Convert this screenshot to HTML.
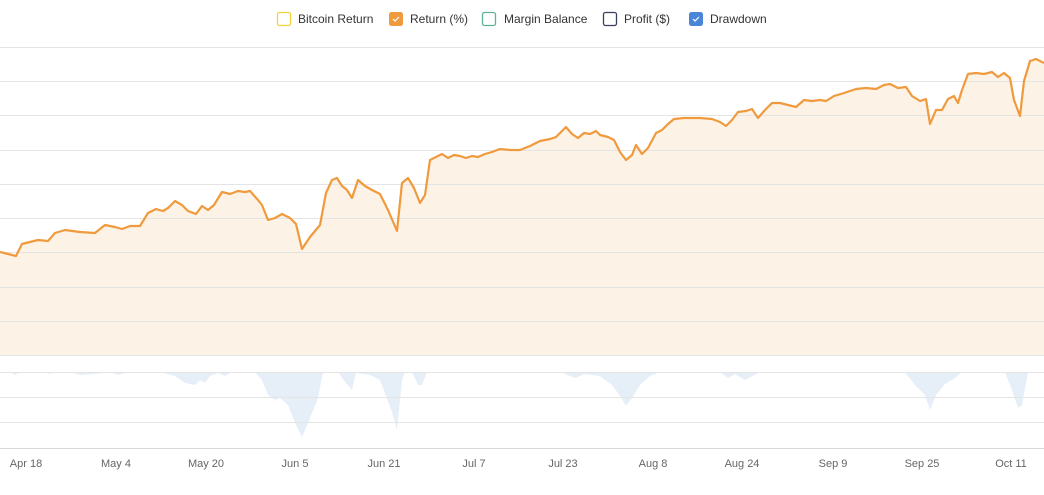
<!DOCTYPE html>
<html><head><style>
body{margin:0;background:#fff;font-family:"Liberation Sans",sans-serif}
</style></head><body>
<svg width="1044" height="490" xmlns="http://www.w3.org/2000/svg" font-family="Liberation Sans, sans-serif">
<rect width="1044" height="490" fill="#fff"/>
<path fill="#fdf2e6" d="M0,252 8,254 16,256 22,244 30,242 38,240 48,241 55,233 65,230 80,232 95,233 105,225 115,227 122,229 130,226 140,226 148,213 156,209 163,211 168,208 175,201 182,205 188,211 196,214 202,206 208,210 214,205 222,192 230,194 238,191 245,192 250,191 258,200 262,205 268,220 275,218 282,214 290,218 296,224 302,249 310,237 320,225 326,193 332,180 337,178 342,186 347,190 352,198 358,180 365,186 372,190 380,194 388,210 397,231 402,183 408,178 414,188 420,203 425,195 430,160 436,157 442,154 448,158 454,155 460,156 466,158 472,156 478,157 485,154 492,152 500,149 510,150 520,150 530,146 540,141 550,139 556,137 560,133 566,127 572,134 578,138 584,133 590,134 596,131 600,135 608,137 614,140 620,152 626,160 632,155 636,145 642,154 648,148 656,133 662,130 668,124 674,119 684,118 700,118 712,119 720,122 726,126 732,120 738,112 746,111 752,109 758,118 765,110 772,103 780,103 788,105 796,107 804,100 812,101 820,100 826,101 834,96 844,93 856,89 866,88 876,89 884,85 890,84 898,88 906,87 912,96 920,101 926,99 930,124 936,110 942,110 948,99 954,96 958,103 962,90 968,74 976,73 984,74 992,72 998,77 1004,73 1010,78 1014,100 1020,116 1024,81 1030,61 1036,59 1044,63 L1044,355 L0,355Z"/>
<path fill="#e6eef8" d="M0,372 10,372 15,375 20,372 45,372 50,374 55,372 70,372 80,375 95,374 110,372 118,375 125,373 140,372 160,372 175,376 185,383 195,385 200,380 205,383 210,376 218,373 225,376 232,372 255,372 262,380 268,395 275,400 280,398 288,405 296,425 302,437 310,418 318,398 323,372 338,372 345,382 352,390 356,373 370,375 380,380 392,412 397,430 402,380 405,372 412,372 418,385 422,385 427,372 560,372 575,378 585,374 600,376 612,385 620,396 626,406 632,398 640,385 650,376 660,372 720,372 728,378 735,374 745,380 760,372 905,372 915,385 925,395 930,410 936,395 945,384 955,378 962,372 1005,372 1012,390 1018,408 1022,405 1028,372 1044,372Z"/>
<g stroke="#e4e4e4" stroke-width="1">
<line x1="0" x2="1044" y1="47.5" y2="47.5"/><line x1="0" x2="1044" y1="81.5" y2="81.5"/>
<line x1="0" x2="1044" y1="115.5" y2="115.5"/><line x1="0" x2="1044" y1="150.5" y2="150.5"/>
<line x1="0" x2="1044" y1="184.5" y2="184.5"/><line x1="0" x2="1044" y1="218.5" y2="218.5"/>
<line x1="0" x2="1044" y1="252.5" y2="252.5"/><line x1="0" x2="1044" y1="287.5" y2="287.5"/>
<line x1="0" x2="1044" y1="321.5" y2="321.5"/><line x1="0" x2="1044" y1="355.5" y2="355.5"/>
<line x1="0" x2="1044" y1="372.5" y2="372.5"/><line x1="0" x2="1044" y1="397.5" y2="397.5"/>
<line x1="0" x2="1044" y1="422.5" y2="422.5"/>
</g>
<path fill="none" stroke="#f09a3e" stroke-width="2.2" stroke-linejoin="round" d="M0,252 8,254 16,256 22,244 30,242 38,240 48,241 55,233 65,230 80,232 95,233 105,225 115,227 122,229 130,226 140,226 148,213 156,209 163,211 168,208 175,201 182,205 188,211 196,214 202,206 208,210 214,205 222,192 230,194 238,191 245,192 250,191 258,200 262,205 268,220 275,218 282,214 290,218 296,224 302,249 310,237 320,225 326,193 332,180 337,178 342,186 347,190 352,198 358,180 365,186 372,190 380,194 388,210 397,231 402,183 408,178 414,188 420,203 425,195 430,160 436,157 442,154 448,158 454,155 460,156 466,158 472,156 478,157 485,154 492,152 500,149 510,150 520,150 530,146 540,141 550,139 556,137 560,133 566,127 572,134 578,138 584,133 590,134 596,131 600,135 608,137 614,140 620,152 626,160 632,155 636,145 642,154 648,148 656,133 662,130 668,124 674,119 684,118 700,118 712,119 720,122 726,126 732,120 738,112 746,111 752,109 758,118 765,110 772,103 780,103 788,105 796,107 804,100 812,101 820,100 826,101 834,96 844,93 856,89 866,88 876,89 884,85 890,84 898,88 906,87 912,96 920,101 926,99 930,124 936,110 942,110 948,99 954,96 958,103 962,90 968,74 976,73 984,74 992,72 998,77 1004,73 1010,78 1014,100 1020,116 1024,81 1030,61 1036,59 1044,63"/>
<line x1="0" x2="1044" y1="448.5" y2="448.5" stroke="#d8d8d8"/>
<g font-size="11" fill="#666" text-anchor="middle">
<text x="26" y="467">Apr 18</text><text x="116" y="467">May 4</text><text x="206" y="467">May 20</text>
<text x="295" y="467">Jun 5</text><text x="384" y="467">Jun 21</text><text x="474" y="467">Jul 7</text>
<text x="563" y="467">Jul 23</text><text x="653" y="467">Aug 8</text><text x="742" y="467">Aug 24</text>
<text x="833" y="467">Sep 9</text><text x="922" y="467">Sep 25</text><text x="1011" y="467">Oct 11</text>
</g>
<g font-size="12" fill="#333">
<rect x="277.5" y="12.5" width="13" height="13" rx="2" fill="#fff" stroke="#f5d23c" stroke-width="1.3"/>
<text x="298" y="23">Bitcoin Return</text>
<rect x="389.5" y="12.5" width="13" height="13" rx="2" fill="#f09a3e" stroke="#f09a3e"/>
<path d="M393,19 l2,2 l4,-4" stroke="#fff" fill="none" stroke-width="1.2"/>
<text x="410" y="23">Return (%)</text>
<rect x="482.5" y="12.5" width="13" height="13" rx="2" fill="#fff" stroke="#5fb39a" stroke-width="1.3"/>
<text x="504" y="23">Margin Balance</text>
<rect x="603.5" y="12.5" width="13" height="13" rx="2" fill="#fff" stroke="#3a3f5e" stroke-width="1.3"/>
<text x="624" y="23">Profit ($)</text>
<rect x="689.5" y="12.5" width="13" height="13" rx="2" fill="#4a86d8" stroke="#4a86d8"/>
<path d="M693,19 l2,2 l4,-4" stroke="#fff" fill="none" stroke-width="1.2"/>
<text x="710" y="23">Drawdown</text>
</g>
</svg>
</body></html>
